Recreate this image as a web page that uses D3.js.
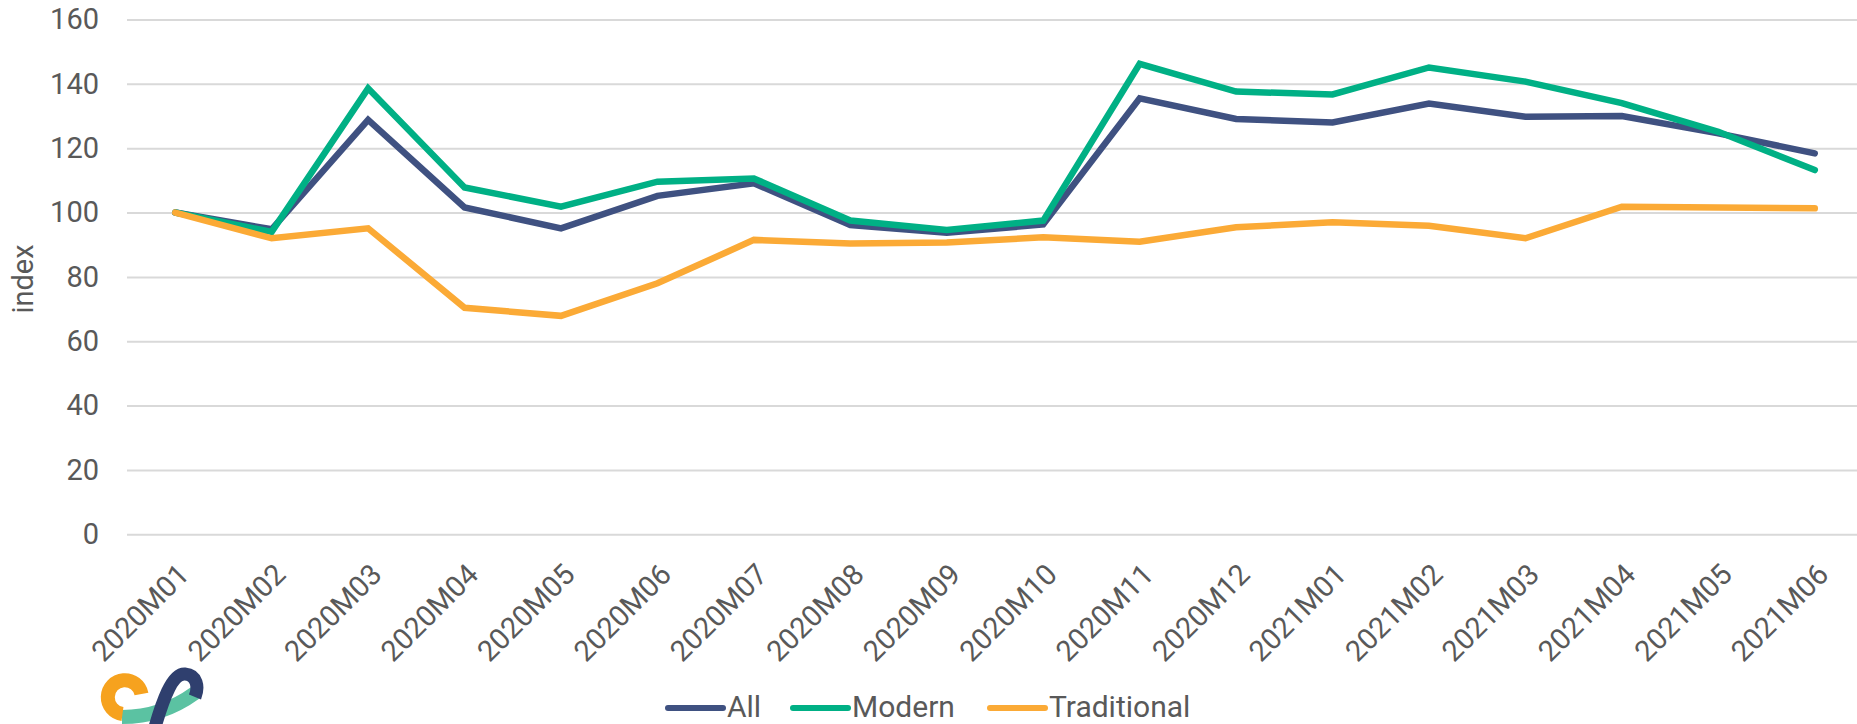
<!DOCTYPE html>
<html>
<head>
<meta charset="utf-8">
<script src="https://cdn.jsdelivr.net/npm/d3@7"></script>
<style>
  body { margin: 0; background: #fff; }
  text { font-family: Roboto, "Noto Sans", sans-serif; fill: #595959; }
</style>
</head>
<body>
<div id="chart"></div>
<script>
const months = ["2020M01", "2020M02", "2020M03", "2020M04", "2020M05", "2020M06",
  "2020M07", "2020M08", "2020M09", "2020M10", "2020M11", "2020M12",
  "2021M01", "2021M02", "2021M03", "2021M04", "2021M05", "2021M06"];

const allValues = [100, 94.8, 128.8, 101.6, 95.1, 105.2, 109.1, 96.1, 93.7, 96.3,
  135.5, 129.1, 128.0, 133.9, 129.8, 130.0, 124.6, 118.4];
const modernValues = [100, 94.0, 138.6, 107.8, 101.8, 109.6, 110.6, 97.5, 94.6, 97.5,
  146.2, 137.6, 136.7, 145.1, 140.7, 134.0, 125.1, 113.2];
const traditionalValues = [100, 92.0, 95.1, 70.4, 67.9, 78.0, 91.5, 90.4, 90.7, 92.3,
  90.9, 95.4, 97.0, 95.9, 92.0, 101.8, 101.6, 101.3];

const yTicks = [0, 20, 40, 60, 80, 100, 120, 140, 160];

const series = [
  {name: "All", values: allValues, color: "#3f5181"},
  {name: "Modern", values: modernValues, color: "#00b085"},
  {name: "Traditional", values: traditionalValues, color: "#fbaa36"}
];

const width = 1857, height = 724;
const plot = {left: 127, right: 1863, top: 19.5, bottom: 534.3};

const svg = d3.select("#chart")
  .append("svg")
  .attr("width", width)
  .attr("height", height);

const xScale = d3.scalePoint()
  .domain(months)
  .range([plot.left, plot.right])
  .padding(0.5);

const yScale = d3.scaleLinear()
  .domain([0, 160])
  .range([plot.bottom, plot.top]);

// gridlines + y labels
const yAxis = d3.axisLeft(yScale)
  .tickValues(yTicks)
  .tickSize(-(plot.right - plot.left))
  .tickPadding(28);

svg.append("g")
  .attr("class", "y-axis")
  .attr("transform", `translate(${plot.left},0)`)
  .call(yAxis)
  .call(g => g.select(".domain").remove())
  .call(g => g.selectAll(".tick line").attr("stroke", "#d9d9d9").attr("stroke-width", 2))
  .call(g => g.selectAll(".tick text")
    .attr("font-size", 29)
    .attr("font-family", "Roboto")
    .attr("fill", "#595959"));

svg.append("text")
  .attr("transform", "translate(33,279) rotate(-90)")
  .attr("text-anchor", "middle")
  .attr("font-size", 29)
  .text("index");

// x labels, rotated
const xAxis = d3.axisBottom(xScale).tickSize(0).tickPadding(0);

svg.append("g")
  .attr("class", "x-axis")
  .attr("transform", `translate(0,${plot.bottom})`)
  .call(xAxis)
  .call(g => g.select(".domain").remove())
  .call(g => g.selectAll(".tick text")
    .attr("font-size", 29)
    .attr("font-family", "Roboto")
    .attr("fill", "#595959")
    .attr("text-anchor", "end")
    .attr("dy", 0)
    .attr("y", 0)
    .attr("transform", "translate(15,42) rotate(-45)"));

const line = d3.line()
  .x((d, i) => xScale(months[i]))
  .y(d => yScale(d));

svg.selectAll(".series")
  .data(series)
  .enter()
  .append("path")
  .attr("class", "series")
  .attr("fill", "none")
  .attr("stroke", d => d.color)
  .attr("stroke-width", 6.5)
  .attr("stroke-linecap", "round")
  .attr("stroke-linejoin", "miter")
  .attr("d", d => line(d.values));

// legend
const legendX = [668, 793, 990];
const legend = svg.selectAll(".legend")
  .data(series)
  .enter()
  .append("g")
  .attr("class", "legend")
  .attr("transform", (d, i) => `translate(${legendX[i]},708)`);

legend.append("line")
  .attr("x1", 0)
  .attr("x2", 55)
  .attr("stroke", d => d.color)
  .attr("stroke-width", 6)
  .attr("stroke-linecap", "round");

legend.append("text")
  .attr("x", 59)
  .attr("y", 9)
  .attr("font-size", 30)
  .text(d => d.name);

// logo, bottom left
const logo = svg.append("g").attr("class", "logo");
logo.append("path")
  .attr("d", "M122,717 Q162,717 195,693")
  .attr("fill", "none")
  .attr("stroke", "#5bc2a2")
  .attr("stroke-width", 14);
logo.append("path")
  .attr("d", "M141.5,694 A17,17 0 1 0 122.5,714")
  .attr("fill", "none")
  .attr("stroke", "#f6a21e")
  .attr("stroke-width", 14);
logo.append("path")
  .attr("d", "M153,734 C162,702 172,673 185,674 C197,675 199,687 195,697")
  .attr("fill", "none")
  .attr("stroke", "#2f3f6e")
  .attr("stroke-width", 13);
</script>
</body>
</html>
